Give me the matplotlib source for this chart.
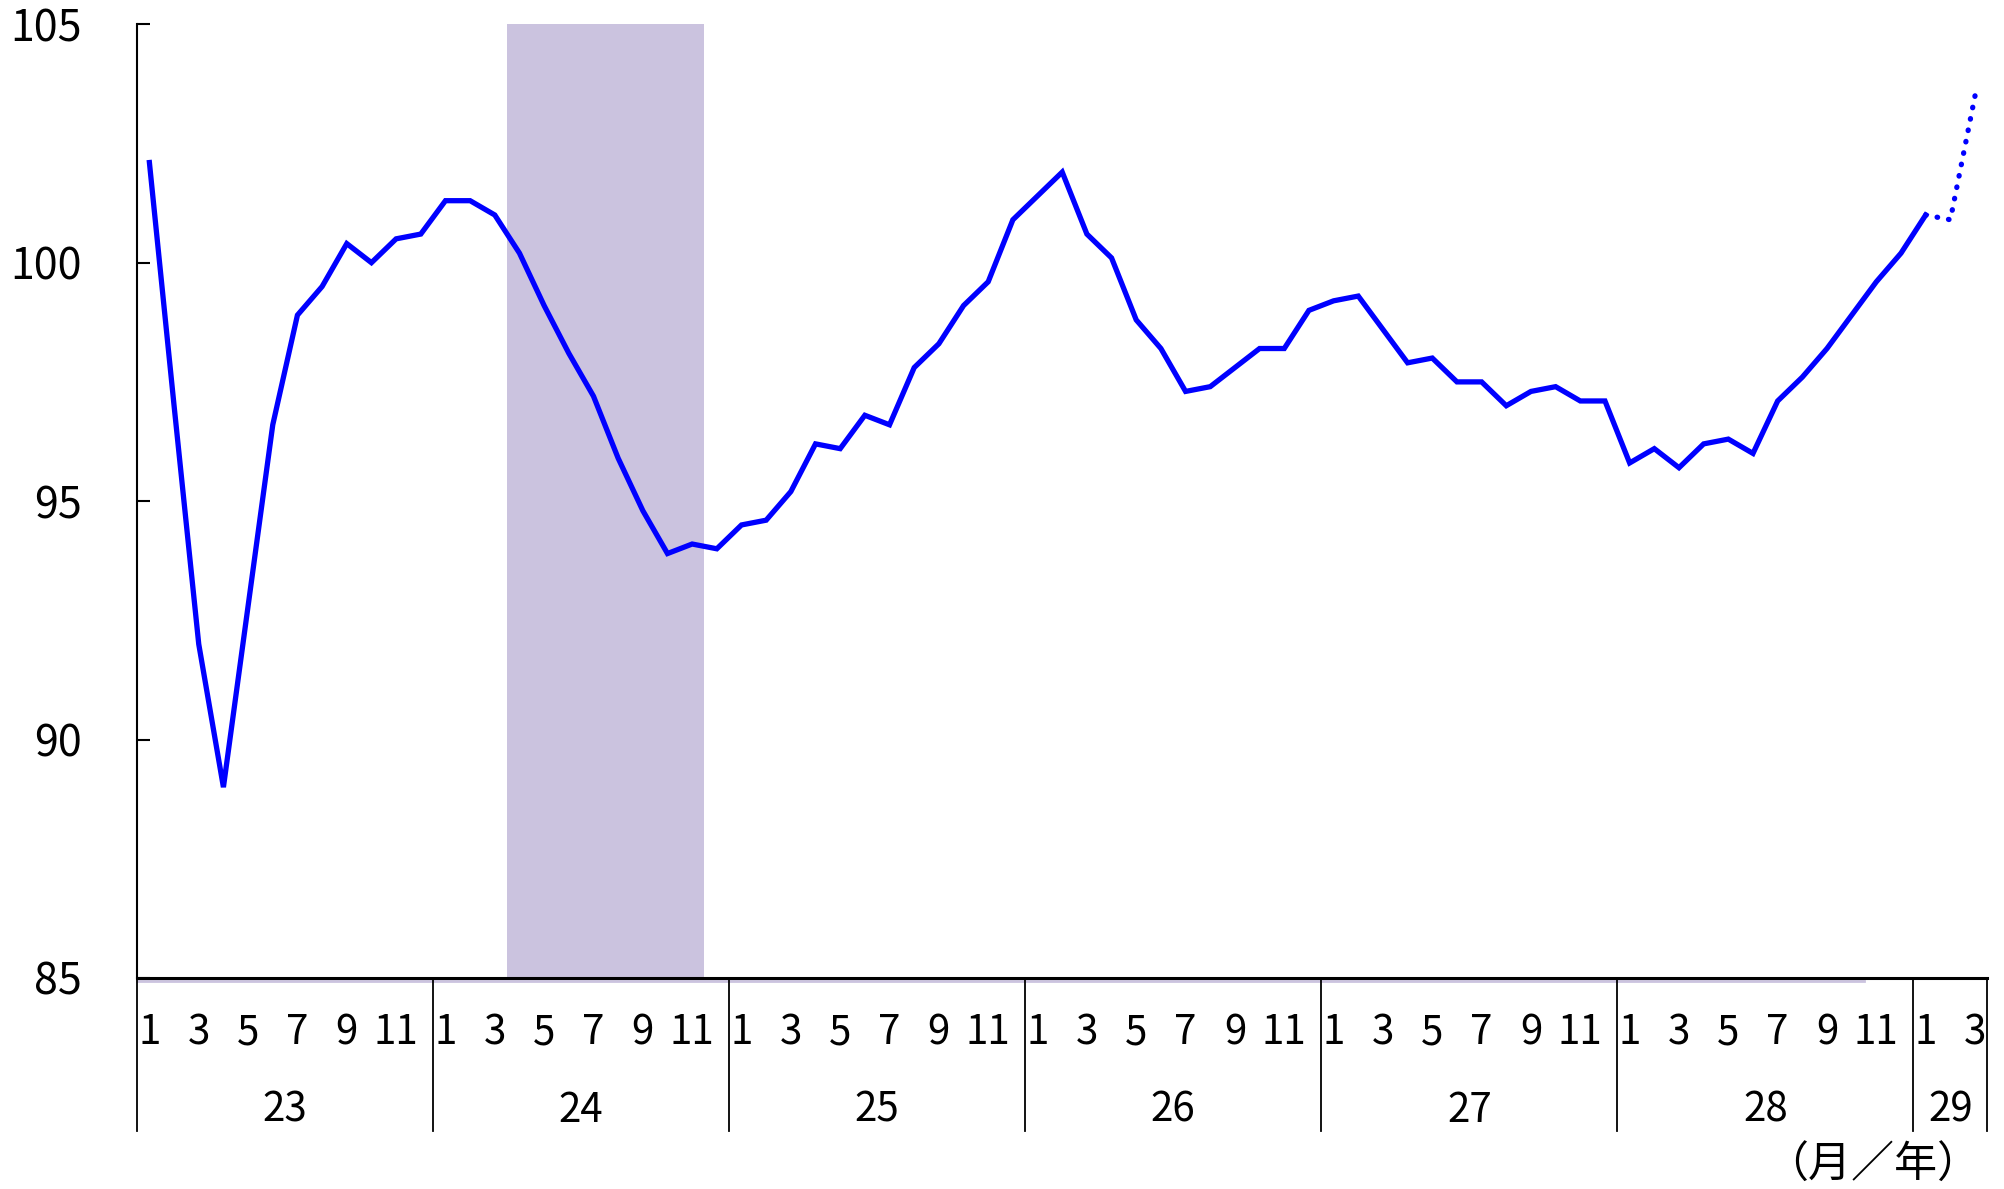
import matplotlib
matplotlib.use("Agg")
import matplotlib.pyplot as plt
import matplotlib.transforms as mtransforms

plt.rcParams['font.family'] = ['Noto Sans CJK JP', 'DejaVu Sans']

# years (Heisei) and monthly index values
years = ['23', '24', '25', '26', '27', '28', '29']
months_in_year = [12, 12, 12, 12, 12, 12, 3]
month_labels = ['1', '', '3', '', '5', '', '7', '', '9', '', '11', '']

vals_23 = [102.1, 97.0, 92.0, 89.0, 92.8, 96.6, 98.9, 99.5, 100.4, 100.0, 100.5, 100.6]
vals_24 = [101.3, 101.3, 101.0, 100.2, 99.1, 98.1, 97.2, 95.9, 94.8, 93.9, 94.1, 94.0]
vals_25 = [94.5, 94.6, 95.2, 96.2, 96.1, 96.8, 96.6, 97.8, 98.3, 99.1, 99.6, 100.9]
vals_26 = [101.4, 101.9, 100.6, 100.1, 98.8, 98.2, 97.3, 97.4, 97.8, 98.2, 98.2, 99.0]
vals_27 = [99.2, 99.3, 98.6, 97.9, 98.0, 97.5, 97.5, 97.0, 97.3, 97.4, 97.1, 97.1]
vals_28 = [95.8, 96.1, 95.7, 96.2, 96.3, 96.0, 97.1, 97.6, 98.2, 98.9, 99.6, 100.2]
vals_29 = [101.0, 100.9, 103.5]

values = vals_23 + vals_24 + vals_25 + vals_26 + vals_27 + vals_28 + vals_29
n_solid = len(values) - 2   # last two months are preliminary (dotted)

# recession shading: Apr 24 - Nov 24 (month index)
shade_start = 15
shade_end = 22

fig = plt.figure(figsize=(20.04, 11.89), dpi=100)
ax = fig.add_axes([0.0684, 0.1775, 0.9233, 0.8021])

x = list(range(len(values)))
ax.axvspan(shade_start - 0.5, shade_end + 0.5, color='#cbc3df', lw=0, zorder=1)
ax.plot(x[:n_solid], values[:n_solid], color='#0000ff', lw=3.8, zorder=3,
        solid_joinstyle='miter')
ax.plot(x[n_solid - 1:], values[n_solid - 1:], color='#0000ff', lw=3.8, zorder=3,
        linestyle=(0, (0.1, 2.1)), dash_capstyle='round')

ax.set_xlim(-0.5, len(values) - 0.5)
ax.set_ylim(85, 105)
ax.set_yticks([85, 90, 95, 100, 105])
ax.tick_params(axis='y', direction='in', length=9, width=1.5, pad=40, labelsize=31)
ax.set_xticks([])

ax.spines['top'].set_visible(False)
ax.spines['right'].set_visible(False)
ax.spines['left'].set_linewidth(1.5)
ax.spines['bottom'].set_linewidth(2.2)

# faint band under the axis line
ax.plot([-0.5, 69.5], [84.93, 84.93], color='#cbc3df', lw=2, clip_on=False, zorder=0)

# hierarchical category labels
trans = mtransforms.blended_transform_factory(ax.transData, fig.transFigure)
start = 0
for yr, cnt in zip(years, months_in_year):
    for m in range(cnt):
        lab = month_labels[m] if cnt == 12 else ['1', '', '3'][m]
        if lab:
            ax.text(start + m, 1 - 1033 / 1189, lab, transform=trans,
                    ha='center', va='center', fontsize=29)
    ax.text(start + (cnt - 1) / 2, 1 - 1110 / 1189, yr, transform=trans,
            ha='center', va='center', fontsize=29)
    ax.plot([start - 0.5, start - 0.5], [1 - 978 / 1189, 1 - 1131 / 1189],
            transform=trans, color='black', lw=1.3, clip_on=False)
    start += cnt
ax.plot([start - 0.5, start - 0.5], [1 - 978 / 1189, 1 - 1131 / 1189],
        transform=trans, color='black', lw=1.3, clip_on=False)

fig.text(1980 / 2004, 1 - 1166 / 1189, '（月／年）', ha='right', va='center', fontsize=31)

fig.savefig('out.png', dpi=100)
